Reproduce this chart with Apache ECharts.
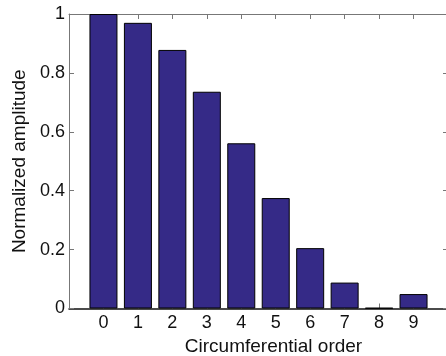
<!DOCTYPE html>
<html>
<head>
<meta charset="utf-8">
<script src="https://cdn.jsdelivr.net/npm/echarts@6/dist/echarts.min.js"></script>
<style>html,body{margin:0;padding:0;background:#fff;}#c{width:446px;height:356px;}</style>
</head>
<body>
<div id="c"></div>
<script>
const orders = [0, 1, 2, 3, 4, 5, 6, 7, 8, 9];
const amplitudes = [1.0, 0.970, 0.878, 0.736, 0.561, 0.375, 0.205, 0.088, 0.002, 0.049];
const yTicks = [0, 0.2, 0.4, 0.6, 0.8, 1];
const xTitle = 'Circumferential order';
const yTitle = 'Normalized amplitude';

const font = 'Liberation Sans, Arial, sans-serif';
const chart = echarts.init(document.getElementById('c'));
chart.setOption({
  animation: false,
  backgroundColor: '#fff',
  grid: { left: 69, top: 14, width: 379, height: 294.5, containLabel: false, outerBoundsMode: 'none' },
  xAxis: [{
    type: 'value', min: -1, max: 10, interval: 1,
    name: xTitle, nameLocation: 'middle', nameGap: 25,
    nameTextStyle: { fontFamily: font, fontSize: 19, color: '#111', padding: [0, 0, 0, 30] },
    axisLine: { show: true, onZero: false, lineStyle: { color: '#111', width: 1.5 } },
    axisTick: { show: true, inside: true, length: 5, lineStyle: { color: '#777' } },
    axisLabel: {
      fontFamily: font, fontSize: 18, color: '#111', margin: 6,
      formatter: v => (orders.indexOf(v) >= 0 ? String(v) : '')
    },
    splitLine: { show: false }
  }, {
    type: 'value', min: -1, max: 10, interval: 1, position: 'top',
    axisLine: { show: true, onZero: false, lineStyle: { color: '#777' } },
    axisTick: { show: true, inside: true, length: 5, lineStyle: { color: '#777' } },
    axisLabel: { show: false }, splitLine: { show: false }
  }],
  yAxis: [{
    type: 'value', min: 0, max: 1, interval: 0.2,
    name: yTitle, nameLocation: 'middle', nameGap: 38, nameRotate: 90,
    nameTextStyle: { fontFamily: font, fontSize: 19, color: '#111' },
    axisLine: { show: true, onZero: false, lineStyle: { color: '#777' } },
    axisTick: { show: true, inside: true, length: 5, lineStyle: { color: '#777' } },
    axisLabel: {
      fontFamily: font, fontSize: 18, color: '#111', margin: 4,
      formatter: v => { const t = yTicks.find(k => Math.abs(k - v) < 1e-9); return t === undefined ? '' : String(t); }
    },
    splitLine: { show: false }
  }, {
    type: 'value', min: 0, max: 1, interval: 0.2, position: 'right',
    axisLine: { show: true, onZero: false, lineStyle: { color: '#777' } },
    axisTick: { show: true, inside: true, length: 5, lineStyle: { color: '#777' } },
    axisLabel: { show: false }, splitLine: { show: false }
  }],
  series: [{
    type: 'bar',
    xAxisIndex: 0, yAxisIndex: 0,
    data: orders.map((o, i) => [o, amplitudes[i]]),
    barWidth: 28,
    itemStyle: { color: '#352A87', borderColor: '#000', borderWidth: 1 }
  }]
});
</script>
</body>
</html>
